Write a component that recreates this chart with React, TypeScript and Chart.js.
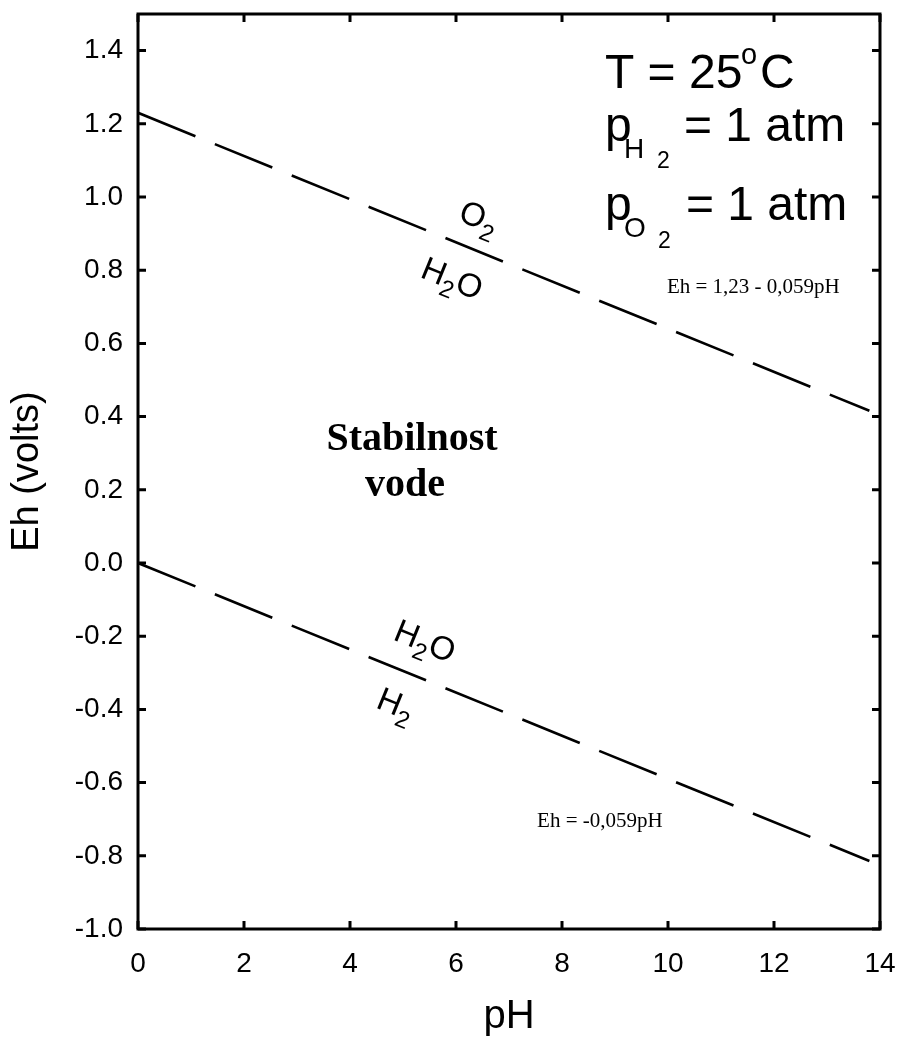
import React, { useEffect, useRef } from 'react';
import { Chart, registerables } from 'chart.js';

Chart.register(...registerables);

// ---- data ----
const phPoints = [0, 13.8];
const ehO2H2O = [1.23, 0.416]; // Eh = 1,23 - 0,059pH
const ehH2OH2 = [0, -0.814]; // Eh = -0,059pH
const xTickValues = [0, 2, 4, 6, 8, 10, 12, 14];
const yTickValues = [-1.0, -0.8, -0.6, -0.4, -0.2, 0.0, 0.2, 0.4, 0.6, 0.8, 1.0, 1.2, 1.4];
const xLimits = [0, 14];
const yLimits = [-1.0, 1.5];

const SANS = '"Liberation Sans", Arial, sans-serif';
const SERIF = '"Liberation Serif", "Times New Roman", serif';

type Part = { t: string; size: number; dy?: number; x?: number; font?: string; bold?: boolean };

function fontOf(p: Part) {
  return `${p.bold ? 'bold ' : ''}${p.size}px ${p.font || SANS}`;
}

function drawSeq(ctx: CanvasRenderingContext2D, parts: Part[], x: number, y: number, angle: number, align: 'left' | 'center') {
  ctx.save();
  ctx.translate(x, y);
  ctx.rotate(angle);
  ctx.textBaseline = 'alphabetic';
  ctx.textAlign = 'left';
  let w = 0;
  parts.forEach((p) => {
    ctx.font = fontOf(p);
    w += ctx.measureText(p.t).width;
  });
  let cx = align === 'center' ? -w / 2 : 0;
  parts.forEach((p) => {
    ctx.font = fontOf(p);
    ctx.fillText(p.t, cx, p.dy || 0);
    cx += ctx.measureText(p.t).width;
  });
  ctx.restore();
}

function drawAbs(ctx: CanvasRenderingContext2D, parts: Part[], x: number, y: number) {
  ctx.save();
  ctx.textBaseline = 'alphabetic';
  ctx.textAlign = 'left';
  parts.forEach((p) => {
    ctx.font = fontOf(p);
    ctx.fillText(p.t, x + (p.x || 0), y + (p.dy || 0));
  });
  ctx.restore();
}

const annotationPlugin = {
  id: 'ehphAnnotations',
  afterDraw(chart: any) {
    const { ctx, chartArea: a, scales } = chart;
    const xs = scales.x;
    const ys = scales.y;
    const px = (v: number) => xs.getPixelForValue(v);
    const py = (v: number) => ys.getPixelForValue(v);
    ctx.save();
    ctx.fillStyle = '#000';
    ctx.strokeStyle = '#000';

    // frame
    ctx.lineWidth = 3;
    ctx.strokeRect(a.left, a.top, a.right - a.left, a.bottom - a.top);
    // inward ticks on all sides
    const TL = 8;
    ctx.beginPath();
    xs.ticks.forEach((t: any) => {
      const x = px(t.value);
      ctx.moveTo(x, a.bottom);
      ctx.lineTo(x, a.bottom - TL);
      ctx.moveTo(x, a.top);
      ctx.lineTo(x, a.top + TL);
    });
    ys.ticks.forEach((t: any) => {
      const y = py(t.value);
      ctx.moveTo(a.left, y);
      ctx.lineTo(a.left + TL, y);
      ctx.moveTo(a.right, y);
      ctx.lineTo(a.right - TL, y);
    });
    ctx.stroke();

    // axis titles
    ctx.save();
    ctx.font = `38px ${SANS}`;
    ctx.textAlign = 'center';
    ctx.textBaseline = 'middle';
    ctx.translate(28, (a.top + a.bottom) / 2);
    ctx.rotate(-Math.PI / 2);
    ctx.fillText('Eh (volts)', 0, 0);
    ctx.restore();
    ctx.save();
    ctx.font = `40px ${SANS}`;
    ctx.textAlign = 'center';
    ctx.textBaseline = 'alphabetic';
    ctx.fillText('pH', (a.left + a.right) / 2, 1028);
    ctx.restore();

    // line-aligned labels
    const angU = Math.atan2(py(ehO2H2O[1]) - py(ehO2H2O[0]), px(phPoints[1]) - px(phPoints[0]));
    const angL = Math.atan2(py(ehH2OH2[1]) - py(ehH2OH2[0]), px(phPoints[1]) - px(phPoints[0]));
    const main = 33;
    const sub = 24;
    drawSeq(ctx, [{ t: 'O', size: main }, { t: '2', size: sub, dy: 9 }], px(6.36), py(0.917), angU, 'center');
    drawSeq(ctx, [{ t: 'H', size: main }, { t: '2', size: sub, dy: 9 }, { t: 'O', size: main }], px(5.85), py(0.75), angU, 'center');
    drawSeq(ctx, [{ t: 'H', size: main }, { t: '2', size: sub, dy: 9 }, { t: 'O', size: main }], px(5.34), py(-0.241), angL, 'center');
    drawSeq(ctx, [{ t: 'H', size: main }, { t: '2', size: sub, dy: 9 }], px(4.79), py(-0.413), angL, 'center');

    // conditions block
    const bx = px(8.81);
    drawAbs(ctx, [
      { t: 'T = 25', size: 48 },
      { t: 'o', size: 29, x: 136, dy: -24 },
      { t: 'C', size: 48, x: 155 },
    ], bx, py(1.299));
    drawAbs(ctx, [
      { t: 'p', size: 48 },
      { t: 'H', size: 28, x: 19, dy: 17 },
      { t: '2', size: 23, x: 52, dy: 27 },
      { t: '= 1 atm', size: 48, x: 79 },
    ], bx, py(1.154));
    drawAbs(ctx, [
      { t: 'p', size: 48 },
      { t: 'O', size: 28, x: 19, dy: 17 },
      { t: '2', size: 23, x: 53, dy: 28 },
      { t: '= 1 atm', size: 48, x: 81 },
    ], bx, py(0.936));

    // equations
    drawAbs(ctx, [{ t: 'Eh = 1,23 - 0,059pH', size: 21, font: SERIF }], px(9.98), py(0.739));
    drawAbs(ctx, [{ t: 'Eh = -0,059pH', size: 21, font: SERIF }], px(7.53), py(-0.7215));

    // stability field
    ctx.save();
    ctx.font = `bold 40px ${SERIF}`;
    ctx.textAlign = 'center';
    ctx.textBaseline = 'alphabetic';
    ctx.fillText('Stabilnost', px(5.17), py(0.308));
    ctx.fillText('vode', px(5.04), py(0.182));
    ctx.restore();

    ctx.restore();
  },
};

export default function App() {
  const ref = useRef<HTMLCanvasElement | null>(null);
  useEffect(() => {
    if (!ref.current) return;
    const lineStyle = {
      borderColor: '#000',
      borderWidth: 2.6,
      borderDash: [62, 21],
      borderCapStyle: 'butt' as const,
      pointRadius: 0,
      fill: false,
      tension: 0,
    };
    const chart = new Chart(ref.current, {
      type: 'line',
      data: {
        datasets: [
          { label: 'O2/H2O', data: phPoints.map((x, i) => ({ x, y: ehO2H2O[i] })), ...lineStyle },
          { label: 'H2O/H2', data: phPoints.map((x, i) => ({ x, y: ehH2OH2[i] })), ...lineStyle },
        ],
      },
      options: {
        animation: false,
        responsive: false,
        maintainAspectRatio: false,
        layout: { padding: { top: 14, right: 20, left: 0, bottom: 0 } },
        plugins: { legend: { display: false }, tooltip: { enabled: false }, title: { display: false } },
        scales: {
          x: {
            type: 'linear',
            min: xLimits[0],
            max: xLimits[1],
            bounds: 'data',
            afterBuildTicks: (axis: any) => {
              axis.ticks = xTickValues.map((v) => ({ value: v }));
            },
            afterFit: (axis: any) => {
              axis.height = 112;
              axis.paddingLeft = 0;
              axis.paddingRight = 0;
              axis.paddingTop = 0;
              axis.paddingBottom = 0;
            },
            grid: { display: true, drawOnChartArea: false, drawTicks: false },
            border: { display: false },
            ticks: {
              color: '#000',
              font: { family: SANS, size: 28 },
              padding: 18,
              maxRotation: 0,
              callback: (v: any) => String(v),
            },
          },
          y: {
            type: 'linear',
            min: yLimits[0],
            max: yLimits[1],
            bounds: 'data',
            afterBuildTicks: (axis: any) => {
              axis.ticks = yTickValues.map((v) => ({ value: v }));
            },
            afterFit: (axis: any) => {
              axis.width = 138;
              axis.paddingLeft = 0;
              axis.paddingRight = 0;
              axis.paddingTop = 0;
              axis.paddingBottom = 0;
            },
            grid: { display: true, drawOnChartArea: false, drawTicks: false },
            border: { display: false },
            ticks: {
              color: '#000',
              font: { family: SANS, size: 28 },
              padding: 15,
              callback: (v: any) => Number(v).toFixed(1),
            },
          },
        },
      },
      plugins: [annotationPlugin],
    });
    return () => chart.destroy();
  }, []);
  return (
    <div style={{ position: 'absolute', left: 0, top: 0, width: 900, height: 1041, overflow: 'hidden', background: '#fff' }}>
      <canvas ref={ref} width={900} height={1041} style={{ display: 'block' }} />
    </div>
  );
}
